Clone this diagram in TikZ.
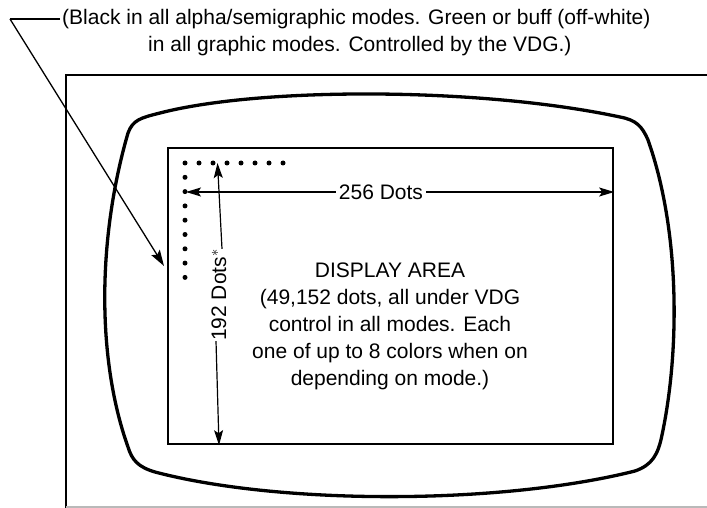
\documentclass[tikz,border=0pt]{standalone}
\usepackage{fontspec}
\setmainfont{Liberation Sans}
\usetikzlibrary{arrows.meta}
\begin{document}
\begin{tikzpicture}[x=1pt,y=-1pt,
  frameline/.style={line width=2.4pt,line cap=round},
  tvline/.style={line width=3.3pt,line join=round},
  screenbox/.style={draw,line width=2.4pt,minimum width=445pt,minimum height=296pt,inner sep=0pt},
  dimline/.style={line width=1.2pt,-{Stealth[length=15pt,width=9pt,inset=3pt]}},
  leader/.style={line width=1.3pt},
  lbl/.style={font=\fontsize{21}{27}\selectfont,inner sep=0pt},
  dotmark/.style={circle,fill,inner sep=0pt,minimum size=5pt}]
\useasboundingbox (0,0) rectangle (707,508);
% outer frame
\draw[frameline] (66,508) -- (66,75) -- (707,75);
\draw[line width=1.5pt,gray!55] (66,507) -- (707,507);
% TV screen outline
\draw[tvline] (128,133) .. controls (133,120) and (140,118) .. (160,113)
  .. controls (260,87) and (480,87) .. (620,117)
  .. controls (636,120) and (642,126) .. (648,140)
  .. controls (680,230) and (680,350) .. (662,435)
  .. controls (658,455) and (652,465) .. (635,471)
  .. controls (500,505) and (280,505) .. (155,472)
  .. controls (138,467) and (132,460) .. (128,447)
  .. controls (97,360) and (97,240) .. (128,133) -- cycle;
% display area
\node[screenbox] (screen) at (390.5,296) {};
% dots
\foreach \i in {0,...,7} \node[dotmark] (r\i) at (185+14*\i,163) {};
\foreach \i in {1,...,8} \node[dotmark] (c\i) at (185,163+14.3*\i) {};
% labels
\node[lbl] (w) at (381,192) {256 Dots};
\node[lbl,rotate=90] (h) at (219,295) {192 Dots$^{\scriptstyle *}$};
\node[lbl,align=center] (area) at (390,326) {DISPLAY AREA\\(49,152 dots, all under VDG\\control in all modes. Each\\one of up to 8 colors when on\\depending on mode.)};
\node[lbl,anchor=west] (note1) at (62,19) {(Black in all alpha/semigraphic modes. Green or buff (off-white)};
\node[lbl,anchor=west] (note2) at (148,46) {in all graphic modes. Controlled by the VDG.)};
% dimension arrows
\coordinate (wl) at (186,192);
\coordinate (ht) at (217.5,163);
\draw[dimline] ([xshift=-3pt]w.west) -- (wl);
\draw[dimline] ([xshift=3pt]w.east) -- (screen.east |- w.east);
\draw[dimline] ([xshift=3pt]h.east) -- (ht);
\draw[dimline] ([xshift=-3pt]h.west) -- (h.west |- screen.south);
% leader
\coordinate (lc) at (10,19);
\coordinate (lt) at (164,266);
\draw[leader] ([xshift=-2pt]note1.west) -- (lc);
\draw[leader,-{Stealth[length=16pt,width=10pt,inset=3pt]}] (lc) -- (lt);
\end{tikzpicture}
\end{document}
